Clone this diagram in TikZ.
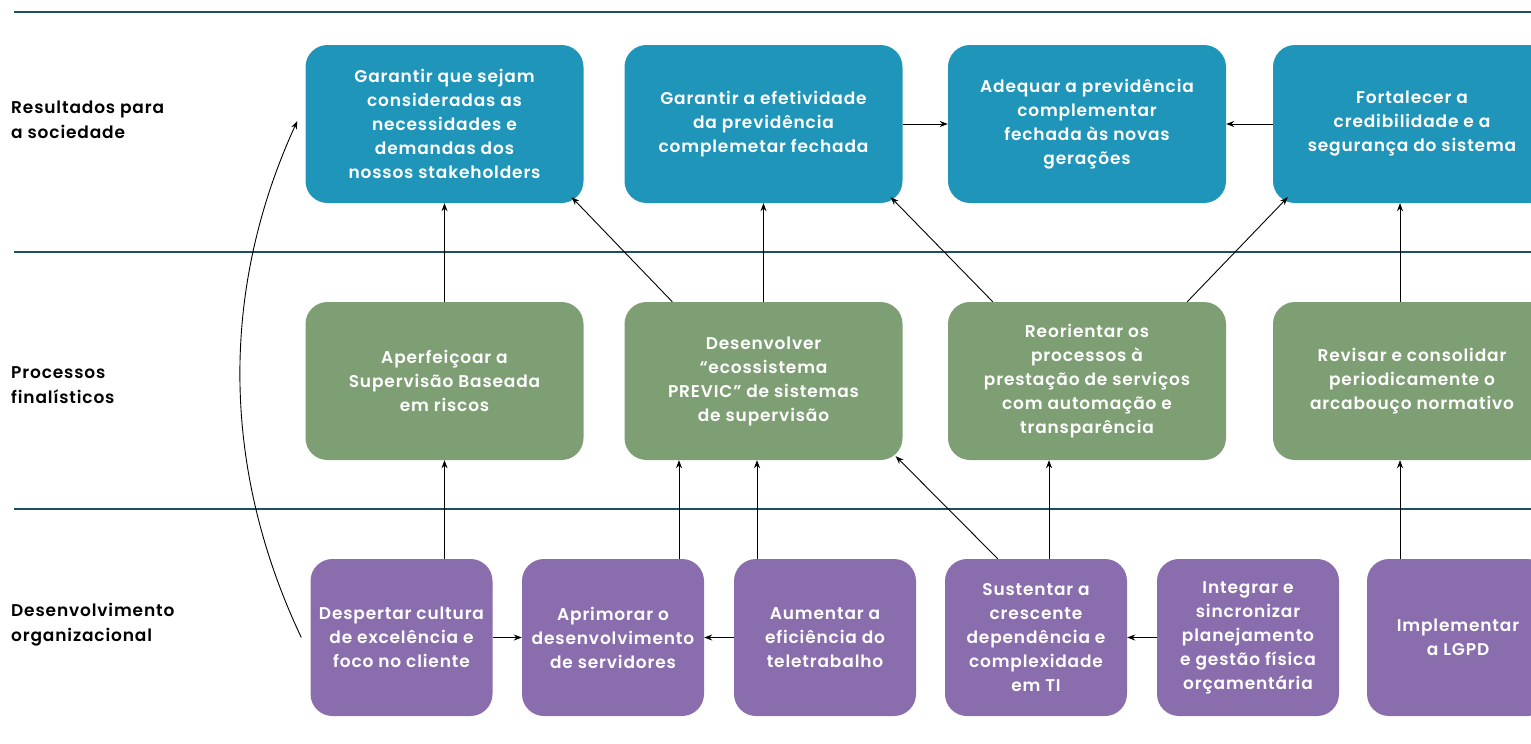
\documentclass[tikz,border=0pt]{standalone}
\usepackage{fontspec}
\setmainfont{Poppins}[BoldFont={Poppins SemiBold}, LetterSpace=5]
\usetikzlibrary{arrows.meta,calc}
\definecolor{cblue}{HTML}{1F95BA}
\definecolor{cgreen}{HTML}{7E9F73}
\definecolor{cpurple}{HTML}{8A6DAD}
\definecolor{cline}{HTML}{1E4F5E}
\tikzset{
  box/.style={rounded corners=22pt, inner sep=0pt, align=center, text=white,
    font=\fontsize{17}{24}\selectfont\bfseries},
  wbox/.style={box, minimum width=278pt, minimum height=158pt},
  pbox/.style={box, fill=cpurple, minimum width=182pt, minimum height=157pt},
  sep/.style={draw=cline, line width=2pt},
  lab/.style={anchor=west, align=left, inner sep=0pt, font=\fontsize{17}{25}\selectfont\bfseries},
  arr/.style={-{Stealth[length=8pt,width=6pt]}, line width=0.9pt, black}
}
\begin{document}
\begin{tikzpicture}[x=1pt,y=-1pt]
\useasboundingbox (0,0) rectangle (1531,744);
\begin{scope}
\clip (0,0) rectangle (1531,744);
% separators
\coordinate (l1a) at (14,12); \coordinate (l1b) at (1531,12);
\coordinate (l2a) at (14,252); \coordinate (l2b) at (1531,252);
\coordinate (l3a) at (14,509); \coordinate (l3b) at (1531,509);
\draw[sep] (l1a) -- (l1b);
\draw[sep] (l2a) -- (l2b);
\draw[sep] (l3a) -- (l3b);
% row labels
\node[lab] (r1) at (11,120) {Resultados para\\a sociedade};
\node[lab] (r2) at (11,385) {Processos\\finalísticos};
\node[lab] (r3) at (11,625) {Desenvolvimento\\organizacional};
% row 1
\node[wbox, fill=cblue] (b1) at (444.5,124) {Garantir que sejam\\consideradas as\\necessidades e\\demandas dos\\nossos stakeholders};
\node[wbox, fill=cblue] (b2) at (763.5,124) {Garantir a efetividade\\da previdência\\complemetar fechada};
\node[wbox, fill=cblue] (b3) at (1087,124) {Adequar a previdência\\complementar\\fechada às novas\\gerações};
\node[wbox, fill=cblue] (b4) at (1412,124) {Fortalecer a\\credibilidade e a\\segurança do sistema};
% row 2
\node[wbox, fill=cgreen] (g1) at (444.5,381) {Aperfeiçoar a\\Supervisão Baseada\\em riscos};
\node[wbox, fill=cgreen] (g2) at (763.5,381) {Desenvolver\\“ecossistema\\PREVIC” de sistemas\\de supervisão};
\node[wbox, fill=cgreen] (g3) at (1087,381) {Reorientar os\\processos à\\prestação de serviços\\com automação e\\transparência};
\node[wbox, fill=cgreen] (g4) at (1412,381) {Revisar e consolidar\\periodicamente o\\arcabouço normativo};
% row 3
\node[pbox] (p1) at (401.5,637.5) {Despertar cultura\\de excelência e\\foco no cliente};
\node[pbox] (p2) at (613,637.5) {Aprimorar o\\desenvolvimento\\de servidores};
\node[pbox] (p3) at (825,637.5) {Aumentar a\\eficiência do\\teletrabalho};
\node[pbox] (p4) at (1036,637.5) {Sustentar a\\crescente\\dependência e\\complexidade\\em TI};
\node[pbox] (p5) at (1248,637.5) {Integrar e\\sincronizar\\planejamento\\e gestão física\\orçamentária};
\node[pbox] (p6) at (1458,637.5) {Implementar\\a LGPD};
% row 2 -> row 1
\draw[arr] (g1.north) -- (b1.south);
\draw[arr] ([xshift=48pt]g2.north west) -- ([xshift=-12pt,yshift=6pt]b1.south east);
\draw[arr] (g2.north) -- (b2.south);
\draw[arr] ([xshift=45pt]g3.north west) -- ([xshift=-12pt,yshift=6pt]b2.south east);
\draw[arr] ([xshift=-39pt]g3.north east) -- ([xshift=15pt,yshift=6pt]b4.south west);
\draw[arr] ([xshift=-12pt]g4.north) -- ([xshift=-12pt]b4.south);
\draw[arr] (b2.east) -- (b3.west);
\draw[arr] (b4.west) -- (b3.east);
% row 3 -> row 2
\draw[arr] (p1.north -| g1.south) -- (g1.south);
\draw[arr] ([xshift=66pt]p2.north) -- ([xshift=66pt]p2.north |- g2.south);
\draw[arr] ([xshift=-68pt]p3.north) -- ([xshift=-68pt]p3.north |- g2.south);
\draw[arr] ([xshift=53pt]p4.north west) -- ([xshift=-7pt,yshift=4pt]g2.south east);
\draw[arr] ([xshift=13pt]p4.north) -- ([xshift=13pt]p4.north |- g3.south);
\draw[arr] ([xshift=-58pt]p6.north) -- ([xshift=-58pt]p6.north |- g4.south);
\draw[arr] (p1.east) -- (p2.west);
\draw[arr] (p3.west) -- (p2.east);
\draw[arr] (p5.west) -- (p4.east);
% curved arrow
\coordinate (cs) at ([xshift=-9pt]p1.west);
\coordinate (ce) at ([xshift=-8pt,yshift=3pt]b1.west);
\draw[arr] (cs) .. controls (222,470) and (219,292) .. (ce);
\end{scope}
\end{tikzpicture}
\end{document}
